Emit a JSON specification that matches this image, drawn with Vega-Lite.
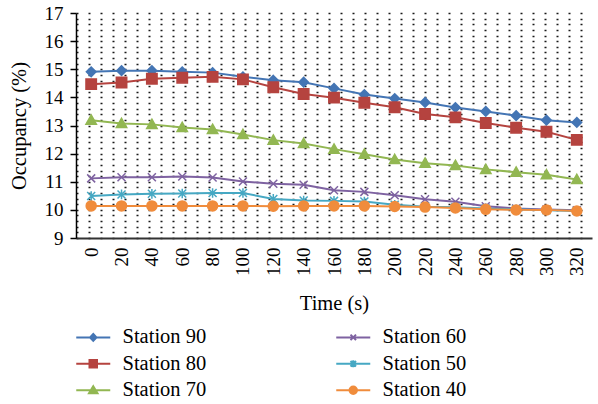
{
  "$schema": "https://vega.github.io/schema/vega-lite/v6.json",
  "autosize": {"type": "none"},
  "padding": {"left": 76, "top": 13, "right": 6, "bottom": 166},
  "width": 516,
  "height": 225,
  "background": "white",
  "config": {
    "view": {"stroke": null},
    "font": "Liberation Serif",
    "axis": {"labelFont": "Liberation Serif", "titleFont": "Liberation Serif", "labelColor": "#000", "titleColor": "#000", "titleFontWeight": "normal"},
    "legend": {"labelFont": "Liberation Serif", "labelColor": "#000"}
  },
  "data": {
    "values": [
      {"Time": 0, "Station": "Station 90", "Occupancy": 14.91},
      {"Time": 20, "Station": "Station 90", "Occupancy": 14.95},
      {"Time": 40, "Station": "Station 90", "Occupancy": 14.95},
      {"Time": 60, "Station": "Station 90", "Occupancy": 14.91},
      {"Time": 80, "Station": "Station 90", "Occupancy": 14.88},
      {"Time": 100, "Station": "Station 90", "Occupancy": 14.73},
      {"Time": 120, "Station": "Station 90", "Occupancy": 14.61},
      {"Time": 140, "Station": "Station 90", "Occupancy": 14.54},
      {"Time": 160, "Station": "Station 90", "Occupancy": 14.32},
      {"Time": 180, "Station": "Station 90", "Occupancy": 14.10},
      {"Time": 200, "Station": "Station 90", "Occupancy": 13.96},
      {"Time": 220, "Station": "Station 90", "Occupancy": 13.82},
      {"Time": 240, "Station": "Station 90", "Occupancy": 13.64},
      {"Time": 260, "Station": "Station 90", "Occupancy": 13.50},
      {"Time": 280, "Station": "Station 90", "Occupancy": 13.35},
      {"Time": 300, "Station": "Station 90", "Occupancy": 13.19},
      {"Time": 320, "Station": "Station 90", "Occupancy": 13.11},
      {"Time": 0, "Station": "Station 80", "Occupancy": 14.47},
      {"Time": 20, "Station": "Station 80", "Occupancy": 14.53},
      {"Time": 40, "Station": "Station 80", "Occupancy": 14.66},
      {"Time": 60, "Station": "Station 80", "Occupancy": 14.70},
      {"Time": 80, "Station": "Station 80", "Occupancy": 14.73},
      {"Time": 100, "Station": "Station 80", "Occupancy": 14.64},
      {"Time": 120, "Station": "Station 80", "Occupancy": 14.36},
      {"Time": 140, "Station": "Station 80", "Occupancy": 14.12},
      {"Time": 160, "Station": "Station 80", "Occupancy": 13.99},
      {"Time": 180, "Station": "Station 80", "Occupancy": 13.81},
      {"Time": 200, "Station": "Station 80", "Occupancy": 13.65},
      {"Time": 220, "Station": "Station 80", "Occupancy": 13.41},
      {"Time": 240, "Station": "Station 80", "Occupancy": 13.29},
      {"Time": 260, "Station": "Station 80", "Occupancy": 13.09},
      {"Time": 280, "Station": "Station 80", "Occupancy": 12.92},
      {"Time": 300, "Station": "Station 80", "Occupancy": 12.78},
      {"Time": 320, "Station": "Station 80", "Occupancy": 12.49},
      {"Time": 0, "Station": "Station 70", "Occupancy": 13.19},
      {"Time": 20, "Station": "Station 70", "Occupancy": 13.07},
      {"Time": 40, "Station": "Station 70", "Occupancy": 13.04},
      {"Time": 60, "Station": "Station 70", "Occupancy": 12.93},
      {"Time": 80, "Station": "Station 70", "Occupancy": 12.86},
      {"Time": 100, "Station": "Station 70", "Occupancy": 12.68},
      {"Time": 120, "Station": "Station 70", "Occupancy": 12.48},
      {"Time": 140, "Station": "Station 70", "Occupancy": 12.36},
      {"Time": 160, "Station": "Station 70", "Occupancy": 12.16},
      {"Time": 180, "Station": "Station 70", "Occupancy": 11.98},
      {"Time": 200, "Station": "Station 70", "Occupancy": 11.79},
      {"Time": 220, "Station": "Station 70", "Occupancy": 11.66},
      {"Time": 240, "Station": "Station 70", "Occupancy": 11.58},
      {"Time": 260, "Station": "Station 70", "Occupancy": 11.44},
      {"Time": 280, "Station": "Station 70", "Occupancy": 11.34},
      {"Time": 300, "Station": "Station 70", "Occupancy": 11.25},
      {"Time": 320, "Station": "Station 70", "Occupancy": 11.08},
      {"Time": 0, "Station": "Station 60", "Occupancy": 11.12},
      {"Time": 20, "Station": "Station 60", "Occupancy": 11.16},
      {"Time": 40, "Station": "Station 60", "Occupancy": 11.16},
      {"Time": 60, "Station": "Station 60", "Occupancy": 11.19},
      {"Time": 80, "Station": "Station 60", "Occupancy": 11.15},
      {"Time": 100, "Station": "Station 60", "Occupancy": 11.01},
      {"Time": 120, "Station": "Station 60", "Occupancy": 10.93},
      {"Time": 140, "Station": "Station 60", "Occupancy": 10.89},
      {"Time": 160, "Station": "Station 60", "Occupancy": 10.70},
      {"Time": 180, "Station": "Station 60", "Occupancy": 10.64},
      {"Time": 200, "Station": "Station 60", "Occupancy": 10.52},
      {"Time": 220, "Station": "Station 60", "Occupancy": 10.38},
      {"Time": 240, "Station": "Station 60", "Occupancy": 10.29},
      {"Time": 260, "Station": "Station 60", "Occupancy": 10.13},
      {"Time": 280, "Station": "Station 60", "Occupancy": 10.05},
      {"Time": 300, "Station": "Station 60", "Occupancy": 10.01},
      {"Time": 320, "Station": "Station 60", "Occupancy": 9.99},
      {"Time": 0, "Station": "Station 50", "Occupancy": 10.49},
      {"Time": 20, "Station": "Station 50", "Occupancy": 10.55},
      {"Time": 40, "Station": "Station 50", "Occupancy": 10.57},
      {"Time": 60, "Station": "Station 50", "Occupancy": 10.58},
      {"Time": 80, "Station": "Station 50", "Occupancy": 10.60},
      {"Time": 100, "Station": "Station 50", "Occupancy": 10.60},
      {"Time": 120, "Station": "Station 50", "Occupancy": 10.39},
      {"Time": 140, "Station": "Station 50", "Occupancy": 10.33},
      {"Time": 160, "Station": "Station 50", "Occupancy": 10.32},
      {"Time": 180, "Station": "Station 50", "Occupancy": 10.30},
      {"Time": 200, "Station": "Station 50", "Occupancy": 10.18},
      {"Time": 220, "Station": "Station 50", "Occupancy": 10.11},
      {"Time": 240, "Station": "Station 50", "Occupancy": 10.09},
      {"Time": 260, "Station": "Station 50", "Occupancy": 10.05},
      {"Time": 280, "Station": "Station 50", "Occupancy": 10.02},
      {"Time": 300, "Station": "Station 50", "Occupancy": 9.99},
      {"Time": 320, "Station": "Station 50", "Occupancy": 9.96},
      {"Time": 0, "Station": "Station 40", "Occupancy": 10.14},
      {"Time": 20, "Station": "Station 40", "Occupancy": 10.14},
      {"Time": 40, "Station": "Station 40", "Occupancy": 10.14},
      {"Time": 60, "Station": "Station 40", "Occupancy": 10.14},
      {"Time": 80, "Station": "Station 40", "Occupancy": 10.14},
      {"Time": 100, "Station": "Station 40", "Occupancy": 10.14},
      {"Time": 120, "Station": "Station 40", "Occupancy": 10.13},
      {"Time": 140, "Station": "Station 40", "Occupancy": 10.14},
      {"Time": 160, "Station": "Station 40", "Occupancy": 10.14},
      {"Time": 180, "Station": "Station 40", "Occupancy": 10.14},
      {"Time": 200, "Station": "Station 40", "Occupancy": 10.12},
      {"Time": 220, "Station": "Station 40", "Occupancy": 10.10},
      {"Time": 240, "Station": "Station 40", "Occupancy": 10.07},
      {"Time": 260, "Station": "Station 40", "Occupancy": 10.02},
      {"Time": 280, "Station": "Station 40", "Occupancy": 10.00},
      {"Time": 300, "Station": "Station 40", "Occupancy": 10.00},
      {"Time": 320, "Station": "Station 40", "Occupancy": 9.96}
    ]
  },
  "layer": [
    {
      "mark": {"type": "line", "strokeWidth": 2},
      "encoding": {
        "x": {
          "field": "Time", "type": "ordinal",
          "scale": {"type": "point", "padding": 0.5},
          "axis": {"title": "Time (s)", "labelAngle": 270, "labelFontSize": 19, "titleFontSize": 20.5, "labelPadding": 9, "titlePadding": 18, "ticks": false, "grid": false, "domainColor": "#333", "domainWidth": 2}
        },
        "y": {
          "field": "Occupancy", "type": "quantitative",
          "scale": {"domain": [9, 17], "nice": false, "zero": false},
          "axis": {"title": "Occupancy (%)", "values": [9, 10, 11, 12, 13, 14, 15, 16, 17], "grid": false, "labelFontSize": 19, "titleFontSize": 20.5, "tickSize": 6, "tickColor": "#000", "tickWidth": 1.5, "labelPadding": 7, "titlePadding": 15, "domainColor": "#000", "domainWidth": 1.5}
        },
        "detail": {"field": "Station"},
        "color": {
          "field": "Station", "type": "nominal",
          "scale": {"domain": ["Station 90", "Station 80", "Station 70", "Station 60", "Station 50", "Station 40"], "range": ["#4475B4", "#B5433F", "#92B752", "#7E62A1", "#46A8C3", "#F08C3C"]},
          "legend": null
        }
      }
    },
    {
      "mark": {"type": "point", "filled": true, "size": 64, "strokeWidth": 1.5, "opacity": 1},
      "encoding": {
        "x": {"field": "Time", "type": "ordinal", "scale": {"type": "point", "padding": 0.5}},
        "y": {
          "field": "Occupancy", "type": "quantitative",
          "scale": {"domain": [9, 17], "nice": false, "zero": false},
          "axis": {"orient": "left", "title": null, "labels": false, "ticks": false, "domain": false, "grid": true, "gridColor": "#000", "gridWidth": 1.6, "gridDash": [2, 10], "gridOpacity": 0.9,
            "values": [9, 9.2, 9.4, 9.6, 9.8, 10, 10.2, 10.4, 10.6, 10.8, 11, 11.2, 11.4, 11.6, 11.8, 12, 12.2, 12.4, 12.6, 12.8, 13, 13.2, 13.4, 13.6, 13.8, 14, 14.2, 14.4, 14.6, 14.8, 15, 15.2, 15.4, 15.6, 15.8, 16, 16.2, 16.4, 16.6, 16.8, 17]}
        },
        "color": {
          "field": "Station", "type": "nominal",
          "scale": {"domain": ["Station 90", "Station 80", "Station 70", "Station 60", "Station 50", "Station 40"], "range": ["#4475B4", "#B5433F", "#92B752", "#7E62A1", "#46A8C3", "#F08C3C"]},
          "legend": null
        },
        "stroke": {
          "field": "Station", "type": "nominal",
          "scale": {"domain": ["Station 90", "Station 80", "Station 70", "Station 60", "Station 50", "Station 40"], "range": ["#4475B4", "#B5433F", "#92B752", "#7E62A1", "#46A8C3", "#F08C3C"]},
          "legend": null
        },
        "shape": {
          "field": "Station", "type": "nominal",
          "scale": {
            "domain": ["Station 90", "Station 80", "Station 70", "Station 60", "Station 50", "Station 40"],
            "range": [
              "M0,-1.2L1.2,0L0,1.2L-1.2,0Z",
              "M-1.3,-1.3H1.3V1.3H-1.3Z",
              "M0,-1.3L1.3,1L-1.3,1Z",
              "M-1,-1L1,1M-1,1L1,-1",
              "M-1,-1L1,1M-1,1L1,-1M0,-1.2L0,1.2",
              "M1.25,0A1.25,1.25,0,1,1,-1.25,0A1.25,1.25,0,1,1,1.25,0Z"
            ]
          },
          "legend": null
        }
      }
    },
    {
      "transform": [{"filter": "false"}],
      "mark": {"type": "point", "filled": true, "size": 100, "strokeWidth": 2, "opacity": 1},
      "encoding": {
        "x": {"field": "Time", "type": "ordinal", "scale": {"type": "point", "padding": 0.5}},
        "y": {"field": "Occupancy", "type": "quantitative", "axis": null},
        "color": {
          "field": "Station", "type": "nominal",
          "scale": {"domain": ["Station 90", "Station 80", "Station 70", "Station 60", "Station 50", "Station 40"], "range": ["#4475B4", "#B5433F", "#92B752", "#7E62A1", "#46A8C3", "#F08C3C"]},
          "legend": {
            "title": null, "orient": "none", "direction": "vertical", "legendX": 7, "legendY": 314, "columns": 2, "columnPadding": 125, "rowPadding": 5.5,
            "labelFontSize": 20.5, "labelOffset": 19, "symbolSize": 100, "symbolStrokeWidth": 2, "symbolOpacity": 1, "labelLimit": 200
          }
        },
        "stroke": {
          "field": "Station", "type": "nominal",
          "scale": {"domain": ["Station 90", "Station 80", "Station 70", "Station 60", "Station 50", "Station 40"], "range": ["#4475B4", "#B5433F", "#92B752", "#7E62A1", "#46A8C3", "#F08C3C"]},
          "legend": {
            "title": null, "orient": "none", "direction": "vertical", "legendX": 7, "legendY": 314, "columns": 2, "columnPadding": 125, "rowPadding": 5.5,
            "labelFontSize": 20.5, "labelOffset": 19, "symbolSize": 100, "symbolStrokeWidth": 2, "symbolOpacity": 1, "labelLimit": 200
          }
        },
        "shape": {
          "field": "Station", "type": "nominal",
          "scale": {
            "domain": ["Station 90", "Station 80", "Station 70", "Station 60", "Station 50", "Station 40"],
            "range": [
              "M-3.4,0H3.4M0,-0.7L0.65,0L0,0.7L-0.65,0Z",
              "M-3.4,0H3.4M-0.75,-0.75H0.75V0.75H-0.75Z",
              "M-3.4,0H3.4M0,-0.8L0.85,0.6L-0.85,0.6Z",
              "M-3.4,0H3.4M-0.55,-0.55L0.55,0.55M-0.55,0.55L0.55,-0.55",
              "M-3.4,0H3.4M-0.55,-0.55L0.55,0.55M-0.55,0.55L0.55,-0.55M0,-0.7L0,0.7",
              "M-3.4,0H3.4M0.75,0A0.75,0.75,0,1,1,-0.75,0A0.75,0.75,0,1,1,0.75,0Z"
            ]
          },
          "legend": {
            "title": null, "orient": "none", "direction": "vertical", "legendX": 7, "legendY": 314, "columns": 2, "columnPadding": 125, "rowPadding": 5.5,
            "labelFontSize": 20.5, "labelOffset": 19, "symbolSize": 100, "symbolStrokeWidth": 2, "symbolOpacity": 1, "labelLimit": 200
          }
        }
      }
    }
  ],
  "resolve": {"scale": {"shape": "independent", "color": "independent", "stroke": "independent"}, "axis": {"y": "independent"}}
}
